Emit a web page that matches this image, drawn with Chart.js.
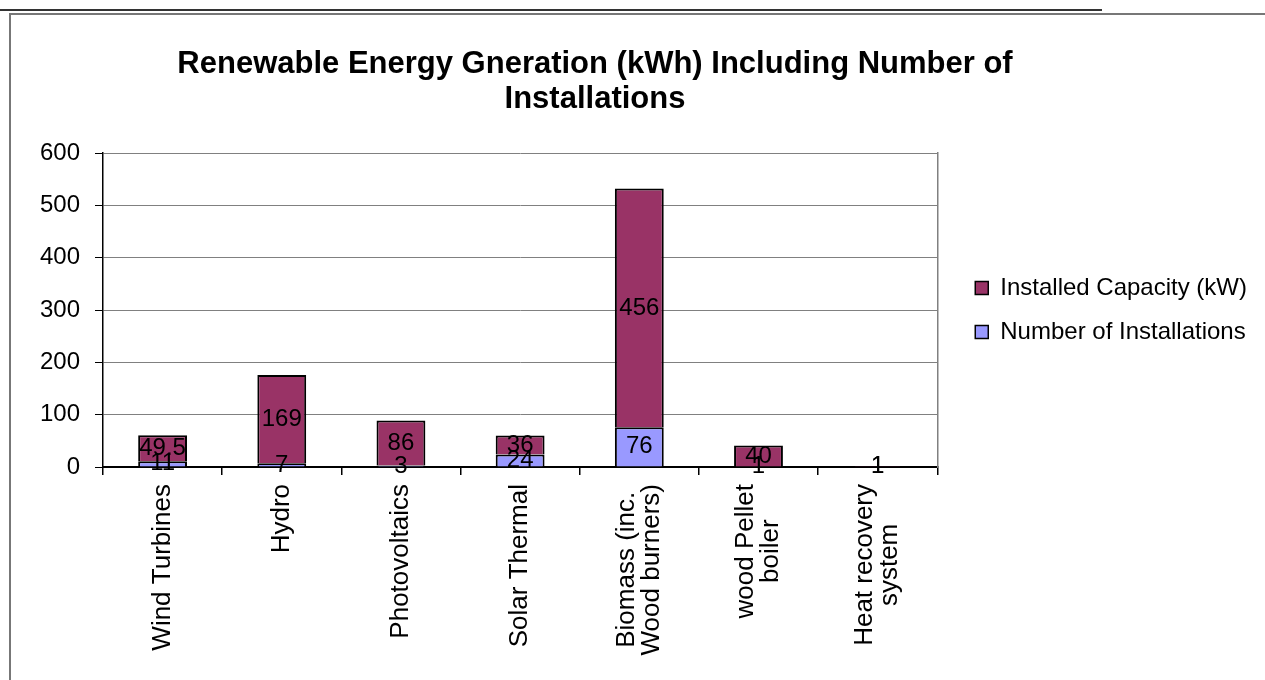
<!DOCTYPE html>
<html>
<head>
<meta charset="utf-8">
<title>Renewable Energy Generation</title>
<script src="https://cdn.jsdelivr.net/npm/chart.js@4/dist/chart.umd.min.js"></script>
<style>
  html, body { margin: 0; padding: 0; background: #fff; overflow: hidden; }
  #rule { position: absolute; left: 0; top: 9px; width: 1102px; border-top: 2px solid #333; }
  #frame { position: absolute; left: 9px; top: 13px; width: 1300px; height: 700px; border: 2px solid #777; }
  #chart { position: absolute; left: 0; top: 0; }
</style>
</head>
<body>
<div id="rule"></div>
<div id="frame"></div>
<canvas id="chart" width="1265" height="680"></canvas>
<script>
const titleLines = ["Renewable Energy Gneration (kWh) Including Number of", "Installations"];
const categories = [
  ["Wind Turbines"],
  ["Hydro"],
  ["Photovoltaics"],
  ["Solar Thermal"],
  ["Biomass (inc.", "Wood burners)"],
  ["wood Pellet", "boiler"],
  ["Heat recovery", "system"]
];
const installations = [11, 7, 3, 24, 76, 1, 1];
const capacity = [49.5, 169, 86, 36, 456, 40, 1];
const yTicks = { min: 0, max: 600, step: 100 };

const fontFamily = '"Liberation Sans", Arial, sans-serif';
const installColor = "#9999FF";
const capacityColor = "#993366";

Chart.defaults.font.family = fontFamily;
Chart.defaults.color = "#000";

// two-line title, drawn left of the legend
const chartTitle = {
  id: "chartTitle",
  afterDraw(chart) {
    const ctx = chart.ctx;
    ctx.save();
    ctx.font = "bold 31px " + fontFamily;
    ctx.fillStyle = "#000";
    ctx.textAlign = "center";
    ctx.textBaseline = "middle";
    titleLines.forEach(function(line, i) {
      ctx.fillText(line, 595, 64 + i * 35);
    });
    ctx.restore();
  }
};

// value in the middle of every bar segment
const valueLabels = {
  id: "valueLabels",
  afterDatasetsDraw(chart) {
    const ctx = chart.ctx;
    ctx.save();
    ctx.font = "24px " + fontFamily;
    ctx.fillStyle = "#000";
    ctx.textAlign = "center";
    ctx.textBaseline = "middle";
    chart.data.datasets.forEach(function(ds, i) {
      chart.getDatasetMeta(i).data.forEach(function(bar, j) {
        if (ds.data[j] == null) return;
        const c = bar.getCenterPoint();
        ctx.fillText(String(ds.data[j]), c.x, c.y);
      });
    });
    ctx.restore();
  }
};

// rotated category names, lines centred on each other
const categoryLabels = {
  id: "categoryLabels",
  afterDraw(chart) {
    const ctx = chart.ctx;
    const xScale = chart.scales.x;
    const lineHeight = 25;
    ctx.save();
    ctx.font = "26px " + fontFamily;
    ctx.fillStyle = "#000";
    ctx.textAlign = "center";
    ctx.textBaseline = "middle";
    chart.data.labels.forEach(function(lines, i) {
      const x = xScale.getPixelForTick(i);
      const y = chart.chartArea.bottom + 17;
      let w = 0;
      lines.forEach(function(l) { w = Math.max(w, ctx.measureText(l).width); });
      ctx.save();
      ctx.translate(x, y);
      ctx.rotate(-Math.PI / 2);
      lines.forEach(function(l, k) {
        ctx.fillText(l, -w / 2, (k - (lines.length - 1) / 2) * lineHeight);
      });
      ctx.restore();
    });
    ctx.restore();
  }
};

const ctx = document.getElementById("chart").getContext("2d");
new Chart(ctx, {
  type: "bar",
  data: {
    labels: categories,
    datasets: [
      {
        label: "Number of Installations",
        data: installations,
        backgroundColor: installColor,
        borderColor: "#000",
        borderWidth: { top: 2, left: 2, right: 2, bottom: 0 },
        borderSkipped: false
      },
      {
        label: "Installed Capacity (kW)",
        data: capacity,
        backgroundColor: capacityColor,
        borderColor: "#000",
        borderWidth: { top: 2, left: 2, right: 2, bottom: 0 },
        borderSkipped: false
      }
    ]
  },
  options: {
    responsive: false,
    animation: false,
    barPercentage: 0.41,
    categoryPercentage: 1,
    layout: {
      padding: { top: 153, left: 0, right: 8, bottom: 0 }
    },
    plugins: {
      title: { display: false },
      tooltip: { enabled: false },
      legend: {
        position: "right",
        fullSize: false,
        reverse: true,
        maxWidth: 340,
        labels: {
          boxWidth: 13,
          boxHeight: 13,
          padding: 20,
          color: "#000",
          font: { size: 24 }
        }
      }
    },
    scales: {
      x: {
        stacked: true,
        afterFit: function(scale) { scale.height = 213; },
        ticks: { display: false },
        grid: {
          offset: true,
          drawOnChartArea: false,
          tickLength: 8,
          tickColor: "#000",
          lineWidth: 1.5
        },
        border: { color: "#000", width: 2 }
      },
      y: {
        stacked: true,
        min: yTicks.min,
        max: yTicks.max,
        afterFit: function(scale) { scale.width = 103; },
        ticks: {
          stepSize: yTicks.step,
          padding: 15,
          color: "#000",
          font: { size: 24 }
        },
        grid: {
          color: "#808080",
          lineWidth: 1,
          tickLength: 8,
          tickColor: "#000"
        },
        border: { color: "#000", width: 1.5 }
      },
      edge: {
        type: "linear",
        position: "right",
        afterFit: function(scale) { scale.width = 18; },
        ticks: { display: false },
        grid: { display: false },
        border: { color: "#808080", width: 1.5 }
      }
    }
  },
  plugins: [chartTitle, valueLabels, categoryLabels]
});
</script>
</body>
</html>
